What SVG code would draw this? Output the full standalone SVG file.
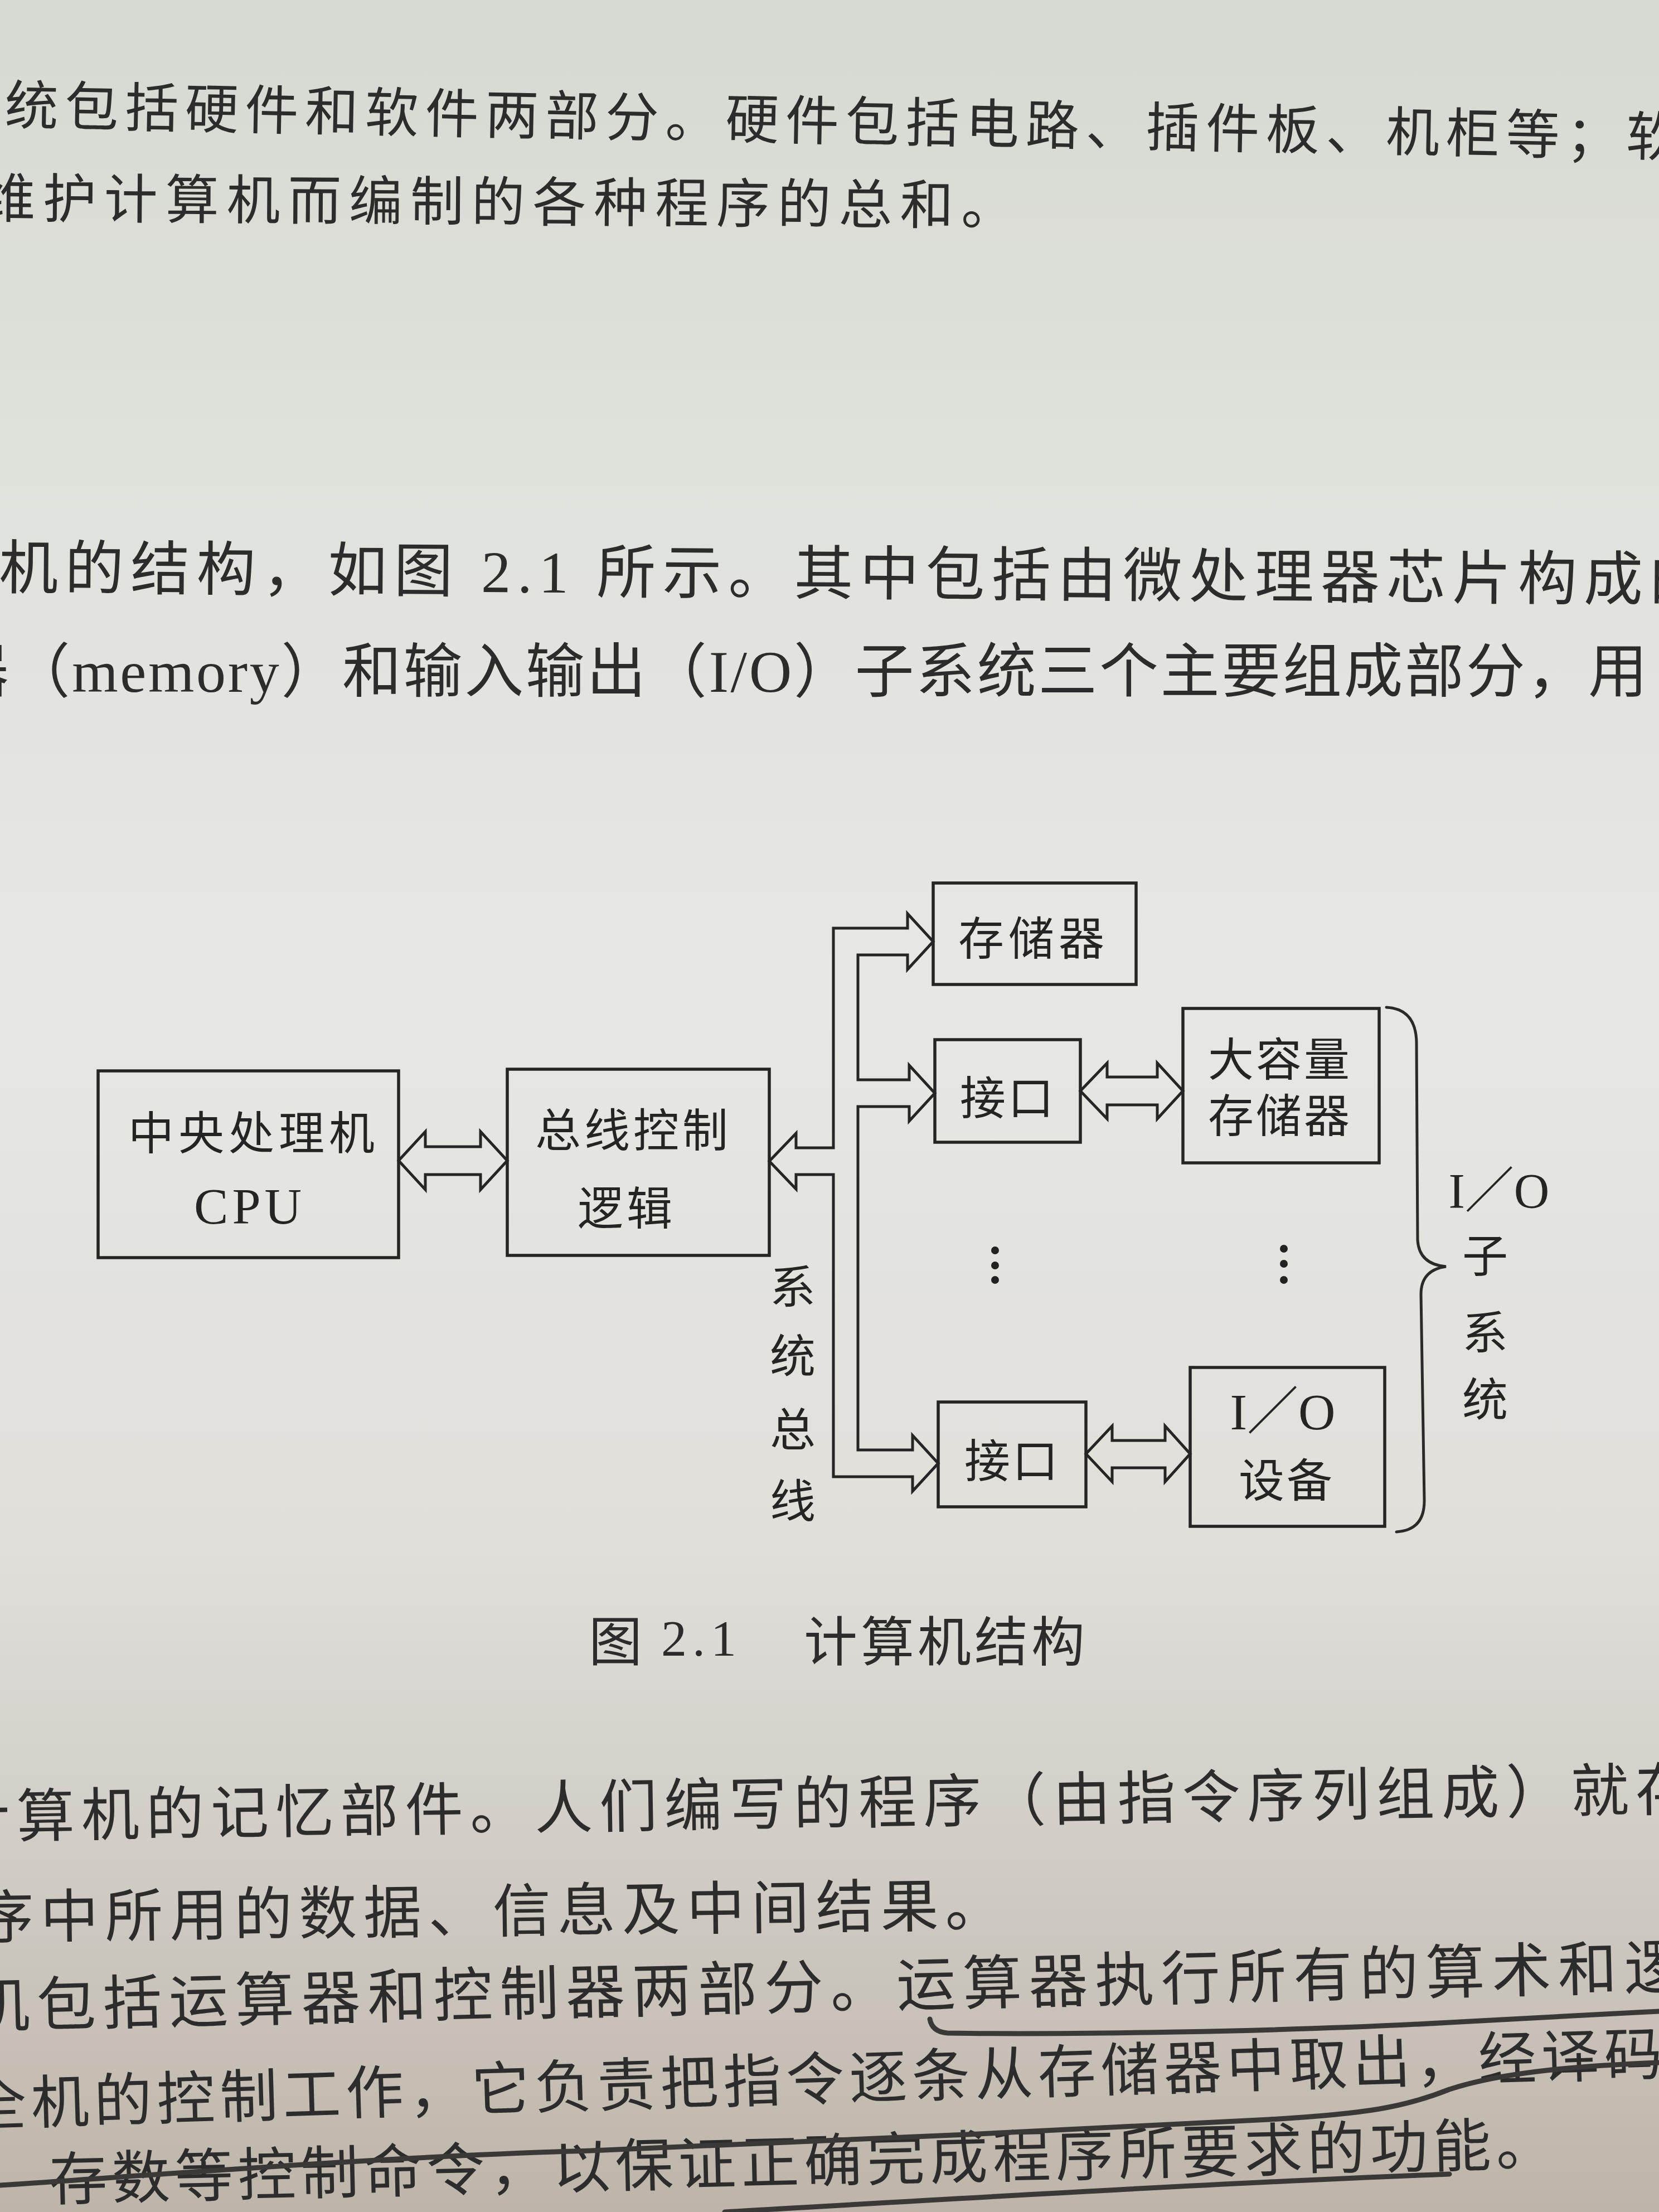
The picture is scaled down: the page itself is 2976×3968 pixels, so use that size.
<svg xmlns="http://www.w3.org/2000/svg" width="2976" height="3968" viewBox="0 0 2976 3968">
<defs>
<linearGradient id="paper" x1="0" y1="0" x2="0" y2="1">
<stop offset="0" stop-color="#d6d9d1"/>
<stop offset="0.2" stop-color="#dfe1db"/>
<stop offset="0.45" stop-color="#e7e7e3"/>
<stop offset="0.7" stop-color="#e0dfda"/>
<stop offset="0.82" stop-color="#d3cfc8"/>
<stop offset="1" stop-color="#bdb5a9"/>
</linearGradient>
<style>
.box{fill:none;stroke:#252525;stroke-width:5.5}
.arr{fill:none;stroke:#252525;stroke-width:5;stroke-linejoin:miter}
.brace{fill:none;stroke:#2a2a2a;stroke-width:5;stroke-linecap:round}
.lbl{font-family:"Liberation Serif","Noto Sans CJK SC",serif;font-size:82px;fill:#242424;text-anchor:middle}
.ser{font-family:"Liberation Serif","Noto Sans CJK SC",serif;fill:#242424;text-anchor:middle}
.body{font-family:"Liberation Serif","Noto Sans CJK SC",serif;fill:#2c2c2c}
.pen{fill:none;stroke:#3a3937;stroke-width:9;stroke-linecap:round}
.dot{fill:#222}
</style>
</defs>
<rect x="0" y="0" width="2976" height="3968" fill="url(#paper)"/>

<g id="body-text-top">
<text class="body" x="8" y="223" font-size="96" textLength="3005" lengthAdjust="spacing" transform="rotate(1.1 8 223)">统包括硬件和软件两部分。硬件包括电路、插件板、机柜等；软</text>
<text class="body" x="-33" y="390" font-size="96" textLength="1853" lengthAdjust="spacing" transform="rotate(0.4 -33 390)">维护计算机而编制的各种程序的总和。</text>
<text class="body" x="-2" y="1056" font-size="106" textLength="3067" lengthAdjust="spacing" transform="rotate(0.4 -2 1056)">机的结构，如图 2.1 所示。其中包括由微处理器芯片构成的</text>
<text class="body" x="-90" y="1241" font-size="106" textLength="3045" lengthAdjust="spacing">器（memory）和输入输出（I/O）子系统三个主要组成部分，用</text>
</g>

<g id="connectors">
<path id="cpu-bus-arrow" class="arr" d="M715,2082 L763,2030 L763,2057 L862,2057 L862,2030 L910,2082 L862,2134 L862,2107 L763,2107 L763,2134 Z"/>
<path id="system-bus" class="arr" d="M1380,2083 L1428,2033 L1428,2059 L1495,2059 L1495,1665 L1628,1665 L1628,1639 L1674,1689 L1628,1739 L1628,1713 L1539,1713 L1539,1937 L1631,1937 L1631,1911 L1677,1961 L1631,2011 L1631,1985 L1539,1985 L1539,2601 L1637,2601 L1637,2575 L1683,2625 L1637,2675 L1637,2649 L1495,2649 L1495,2107 L1428,2107 L1428,2133 Z"/>
<path id="if1-mass-arrow" class="arr" d="M1938,1957 L1986,1907 L1986,1932 L2076,1932 L2076,1907 L2122,1957 L2076,2007 L2076,1982 L1986,1982 L1986,2007 Z"/>
<path id="if2-io-arrow" class="arr" d="M1948,2608 L1995,2558 L1995,2584 L2090,2584 L2090,2558 L2135,2608 L2090,2658 L2090,2633 L1995,2633 L1995,2658 Z"/>
</g>

<g id="node-cpu">
<rect class="box" x="176" y="1921" width="539" height="335"/>
<text class="lbl" x="455" y="2062" letter-spacing="8">中央处理机</text>
<text class="ser" x="448" y="2195" font-size="92" letter-spacing="7">CPU</text>
</g>

<g id="node-bus-control">
<rect class="box" x="910" y="1918" width="470" height="334"/>
<text class="lbl" x="1136" y="2057" letter-spacing="6">总线控制</text>
<text class="lbl" x="1124" y="2197" letter-spacing="6">逻辑</text>
</g>

<g id="node-memory">
<rect class="box" x="1674" y="1584" width="364" height="182"/>
<text class="lbl" x="1854" y="1713" letter-spacing="8">存储器</text>
</g>

<g id="node-interface-1">
<rect class="box" x="1677" y="1865" width="261" height="184"/>
<text class="lbl" x="1808" y="1999" letter-spacing="4">接口</text>
</g>

<g id="node-mass-storage">
<rect class="box" x="2122" y="1809" width="352" height="277"/>
<text class="lbl" x="2296" y="1930" letter-spacing="4">大容量</text>
<text class="lbl" x="2296" y="2031" letter-spacing="4">存储器</text>
</g>

<g id="node-interface-2">
<rect class="box" x="1683" y="2515" width="265" height="188"/>
<text class="lbl" x="1816" y="2650" letter-spacing="4">接口</text>
</g>

<g id="node-io-device">
<rect class="box" x="2135" y="2453" width="349" height="285"/>
<text class="ser" x="2301" y="2564" font-size="92">I／O</text>
<text class="lbl" x="2308" y="2685" letter-spacing="4">设备</text>
</g>

<g id="ellipsis">
<circle class="dot" cx="1785" cy="2243" r="7"/>
<circle class="dot" cx="1785" cy="2270" r="7"/>
<circle class="dot" cx="1785" cy="2296" r="7"/>
<circle class="dot" cx="2303" cy="2240" r="7"/>
<circle class="dot" cx="2303" cy="2267" r="7"/>
<circle class="dot" cx="2303" cy="2296" r="7"/>
</g>

<g id="label-system-bus">
<text class="lbl" x="1422" y="2338">系</text>
<text class="lbl" x="1422" y="2462">统</text>
<text class="lbl" x="1422" y="2594">总</text>
<text class="lbl" x="1422" y="2722">线</text>
</g>

<g id="io-subsystem">
<path class="brace" d="M2487,1807 Q2540,1810 2541,1870 L2543,2225 Q2546,2268 2594,2272 Q2549,2278 2549,2322 L2555,2690 Q2556,2745 2505,2748"/>
<text class="ser" x="2689" y="2166" font-size="88">I／O</text>
<text class="lbl" x="2664" y="2282">子</text>
<text class="lbl" x="2664" y="2420">系</text>
<text class="lbl" x="2664" y="2540">统</text>
</g>

<g id="caption">
<text class="body" x="1056" y="2979" font-size="96">图</text>
<text class="body" x="1186" y="2970" font-size="92" letter-spacing="10">2.1</text>
<text class="body" x="1442" y="2979" font-size="96" letter-spacing="6">计算机结构</text>
</g>

<g id="body-text-bottom">
<text class="body" x="-86" y="3297" font-size="104" textLength="3125" lengthAdjust="spacing" transform="rotate(-0.92 -86 3297)">计算机的记忆部件。人们编写的程序（由指令序列组成）就存</text>
<text class="body" x="-43" y="3477" font-size="104" textLength="1843" lengthAdjust="spacing" transform="rotate(-0.7 -43 3477)">序中所用的数据、信息及中间结果。</text>
<text class="body" x="-52" y="3637" font-size="106" textLength="3073" lengthAdjust="spacing" transform="rotate(-1.32 -52 3637)">机包括运算器和控制器两部分。运算器执行所有的算术和逻</text>
<text class="body" x="-56" y="3813" font-size="104" textLength="3040" lengthAdjust="spacing" transform="rotate(-1.73 -56 3813)">全机的控制工作，它负责把指令逐条从存储器中取出，经译码</text>
<text class="body" x="89" y="3947" font-size="104" textLength="2700" lengthAdjust="spacing" transform="rotate(-1.37 89 3947)">存数等控制命令，以保证正确完成程序所要求的功能。</text>
</g>

<g id="pen-marks">
<path class="pen" d="M1668,3622 Q1672,3645 1700,3647 C1900,3650 2300,3645 2600,3628 S2900,3612 2976,3608"/>
<path class="pen" d="M0,3920 C300,3900 700,3868 1060,3858 C1400,3845 1900,3822 2277,3802 C2450,3792 2520,3780 2600,3748 C2700,3715 2850,3705 2976,3700"/>
<path class="pen" d="M1300,3968 C1700,3945 2200,3915 2600,3900"/>
</g>
</svg>
